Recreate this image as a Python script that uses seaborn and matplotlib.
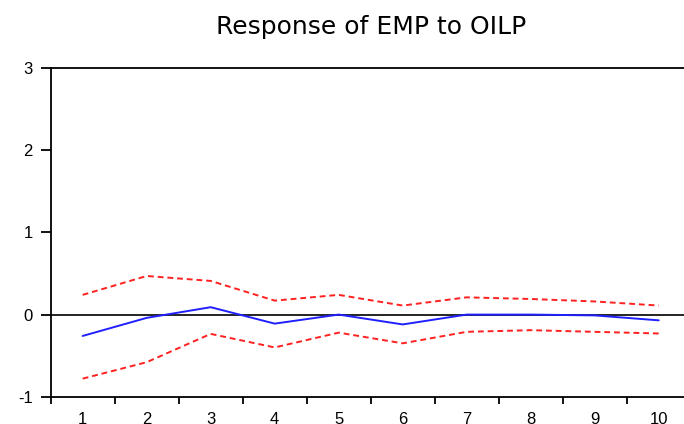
import numpy as np
import pandas as pd
import matplotlib
matplotlib.use("Agg")
import matplotlib.pyplot as plt
import seaborn as sns

periods = [1, 2, 3, 4, 5, 6, 7, 8, 9, 10]
response = [-0.26, -0.04, 0.09, -0.11, 0.00, -0.12, 0.00, 0.00, -0.01, -0.07]
upper = [0.24, 0.47, 0.41, 0.17, 0.24, 0.11, 0.21, 0.19, 0.16, 0.11]
lower = [-0.78, -0.58, -0.235, -0.40, -0.22, -0.35, -0.21, -0.19, -0.21, -0.23]
yticks = [-1, 0, 1, 2, 3]
title = "Response of EMP to OILP"

sns.set_style("ticks")
plt.rcParams['font.family'] = ['Liberation Sans', 'DejaVu Sans']
plt.rcParams['text.color'] = 'black'
plt.rcParams['xtick.color'] = 'black'
plt.rcParams['ytick.color'] = 'black'

fig = plt.figure(figsize=(6.84, 4.24), dpi=100)
ax = fig.add_axes([0.0741, 0.0644, 0.9357, 0.7746])

df = pd.DataFrame({"period": periods, "response": response,
                   "upper": upper, "lower": lower})

ax.axhline(0, color="black", lw=1.2, zorder=1)
sns.lineplot(data=df, x="period", y="upper", ax=ax, color="#ff2020",
             lw=1.4, linestyle=(0, (3, 2)), zorder=2)
sns.lineplot(data=df, x="period", y="lower", ax=ax, color="#ff2020",
             lw=1.4, linestyle=(0, (3, 2)), zorder=2)
sns.lineplot(data=df, x="period", y="response", ax=ax, color="#2020ff",
             lw=1.4, zorder=3)

ax.set_xlim(0.5, 10.5)
ax.set_ylim(-1, 3)
ax.set_yticks(yticks)
ax.set_yticklabels([str(v) for v in yticks])
ax.set_xticks(np.arange(0.5, 11, 1.0))
ax.set_xticklabels([])
ax.set_xticks(periods, minor=True)
ax.set_xticklabels([str(p) for p in periods], minor=True)
ax.tick_params(axis="x", which="major", direction="out", length=5, width=1.3)
ax.tick_params(axis="x", which="minor", length=0, pad=11, labelsize=12,
               labelcolor="black")
ax.tick_params(axis="y", direction="out", length=7, width=1.3,
               labelsize=12, pad=6, labelcolor="black")
ax.set_xlabel("")
ax.set_ylabel("")
for s in ax.spines.values():
    s.set_color("black")
    s.set_linewidth(1.3)

ax.set_title(title, fontsize=18, family=["DejaVu Sans"], pad=25, color="black")

fig.savefig("out.png", dpi=100)
